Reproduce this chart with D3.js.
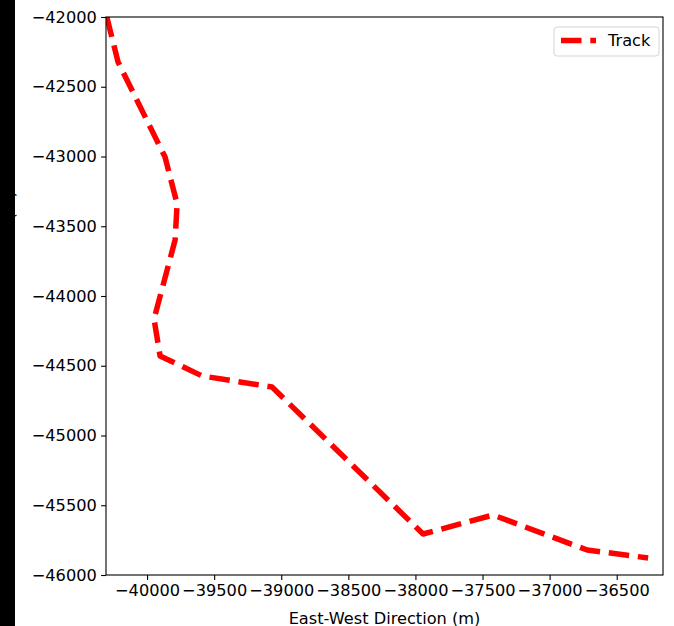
<!DOCTYPE html>
<html>
<head>
<meta charset="utf-8">
<script src="https://cdn.jsdelivr.net/npm/d3@7"></script>
<style>
  html, body { margin: 0; padding: 0; background: #fff; }
  svg { display: block; }
  text { font-family: "DejaVu Sans", sans-serif; }
</style>
</head>
<body>
<svg id="chart" width="674" height="626"></svg>
<script>
// Track position, metres
const trackEast  = [-40300, -40216, -39866, -39776, -39791, -39948, -39903, -39590, -39069, -37943, -37421, -36720, -36266];
const trackNorth = [-42000, -42323, -43004, -43340, -43599, -44165, -44430, -44573, -44652, -45706, -45570, -45821, -45878];

const xTicks = [-40000, -39500, -39000, -38500, -38000, -37500, -37000, -36500];
const yTicks = [-42000, -42500, -43000, -43500, -44000, -44500, -45000, -45500, -46000];
const xDomain = [-40306, -36155];
const yDomain = [-46000, -42000];

const seriesName = "Track";
const xLabel = "East-West Direction (m)";
const yLabel = "North-South Direction (m)";

const W = 674, H = 626;
const plot = { left: 106, right: 663, top: 17, bottom: 575 };
const fontPx = 16.2;
const minus = v => String(v).replace("-", "\u2212");

const svg = d3.select("#chart");

const x = d3.scaleLinear().domain(xDomain).range([plot.left, plot.right]);
const y = d3.scaleLinear().domain(yDomain).range([plot.bottom, plot.top]);

// y-axis label (mostly sits under the dark strip on the left edge)
svg.append("text")
  .attr("transform", `translate(14.3, 191) rotate(-90)`)
  .attr("text-anchor", "end")
  .attr("font-size", fontPx)
  .attr("fill", "#000")
  .text(yLabel);

svg.append("rect")
  .attr("x", 0).attr("y", 0)
  .attr("width", 15).attr("height", H)
  .attr("fill", "#000");

// axes
const xAxis = d3.axisBottom(x)
  .tickValues(xTicks)
  .tickFormat(minus)
  .tickSize(4.9)
  .tickPadding(4.3)
  .tickSizeOuter(0);

const yAxis = d3.axisLeft(y)
  .tickValues(yTicks)
  .tickFormat(minus)
  .tickSize(4.9)
  .tickPadding(4.3)
  .tickSizeOuter(0);

const gx = svg.append("g")
  .attr("transform", `translate(0, ${plot.bottom})`)
  .call(xAxis);
const gy = svg.append("g")
  .attr("transform", `translate(${plot.left}, 0)`)
  .call(yAxis);

[gx, gy].forEach(g => {
  g.select(".domain").remove();
  g.selectAll(".tick line").attr("stroke", "#000").attr("stroke-width", 1.1);
  g.selectAll(".tick text")
    .attr("font-size", fontPx)
    .attr("font-family", "DejaVu Sans, sans-serif")
    .attr("fill", "#000");
});

// x-axis title
svg.append("text")
  .attr("x", (plot.left + plot.right) / 2)
  .attr("y", 623.5)
  .attr("text-anchor", "middle")
  .attr("font-size", fontPx)
  .attr("fill", "#000")
  .text(xLabel);

// clip region for the data
svg.append("clipPath").attr("id", "plot-clip")
  .append("rect")
  .attr("x", plot.left).attr("y", plot.top)
  .attr("width", plot.right - plot.left)
  .attr("height", plot.bottom - plot.top);

const points = trackEast.map((e, i) => [e, trackNorth[i]]);

const line = d3.line()
  .x(d => x(d[0]))
  .y(d => y(d[1]));

const dash = "20.5,8.8";

svg.append("path")
  .datum(points)
  .attr("clip-path", "url(#plot-clip)")
  .attr("d", line)
  .attr("fill", "none")
  .attr("stroke", "#ff0000")
  .attr("stroke-width", 5.5)
  .attr("stroke-dasharray", dash)
  .attr("stroke-linejoin", "round");

// frame
svg.append("rect")
  .attr("x", plot.left).attr("y", plot.top)
  .attr("width", plot.right - plot.left)
  .attr("height", plot.bottom - plot.top)
  .attr("fill", "none")
  .attr("stroke", "#000")
  .attr("stroke-width", 1.1);

// legend
const lg = svg.append("g").attr("transform", "translate(554, 27)");
lg.append("rect")
  .attr("x", 0).attr("y", 0)
  .attr("width", 105).attr("height", 29)
  .attr("rx", 3).attr("ry", 3)
  .attr("fill", "#fff").attr("fill-opacity", 0.8)
  .attr("stroke", "#d5d5d5").attr("stroke-width", 1);
lg.append("line")
  .attr("x1", 7).attr("x2", 42)
  .attr("y1", 13.5).attr("y2", 13.5)
  .attr("stroke", "#ff0000")
  .attr("stroke-width", 5.5)
  .attr("stroke-dasharray", dash);
lg.append("text")
  .attr("x", 54).attr("y", 19)
  .attr("font-size", fontPx)
  .attr("fill", "#000")
  .text(seriesName);
</script>
</body>
</html>
